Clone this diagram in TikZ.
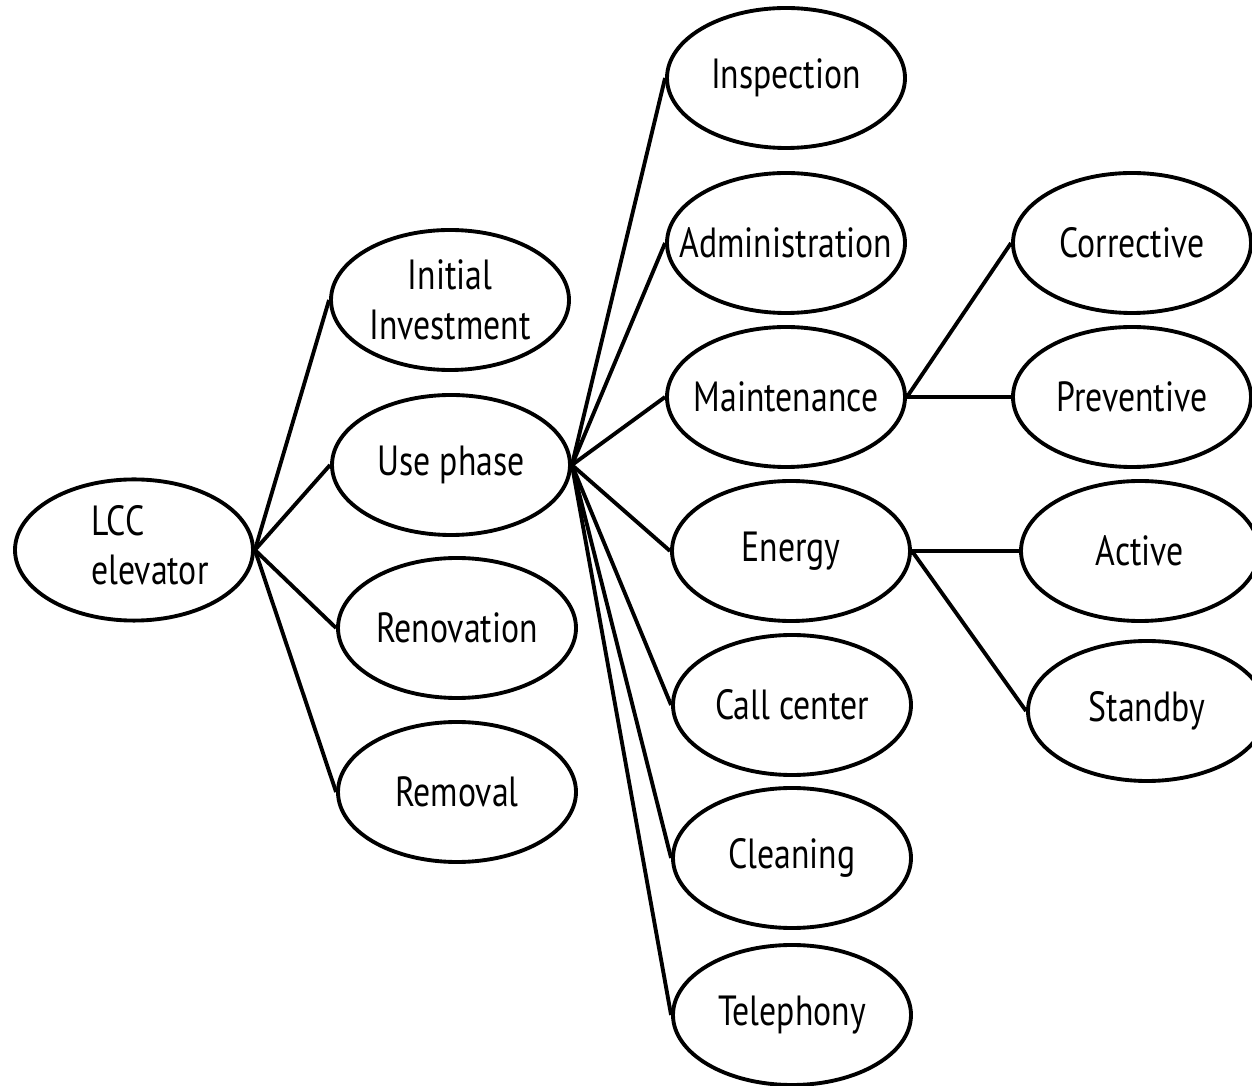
\documentclass[tikz,border=0pt]{standalone}
\usepackage{fontspec}
\setmainfont{PT Sans}[FakeStretch=0.8]
\usetikzlibrary{shapes.geometric}

\tikzset{
  cost/.style={draw, ellipse, line width=1.1pt, minimum width=2.38cm,
    minimum height=1.40cm, inner sep=0pt, align=center,
    font=\fontsize{12}{14.2}\selectfont},
  link/.style={line width=1.1pt}
}

\begin{document}
\begin{tikzpicture}
    		% Frame
			\useasboundingbox (0,0) rectangle (12.52,-10.86);
			% Root and first level
			\node[cost] (lcc) at (1.34,-5.50) {\hspace*{0.32cm}\begin{tabular}{@{}l@{}}LCC\\elevator\end{tabular}};
			\node[cost] (ini) at (4.50,-3.00) {Initial\\Investment};
			\node[cost] (use) at (4.51,-4.65) {Use phase};
			\node[cost] (ren) at (4.57,-6.28) {Renovation};
			\node[cost] (rem) at (4.57,-7.92) {Removal};
			% Use phase items
			\node[cost] (ins) at (7.86,-0.78) {Inspection};
			\node[cost] (adm) at (7.86,-2.43) {\makebox[0pt]{Administration}};
			\node[cost] (mnt) at (7.86,-3.97) {\makebox[0pt]{Maintenance}};
			\node[cost] (ene) at (7.91,-5.51) {Energy};
			\node[cost] (cal) at (7.92,-7.05) {Call center};
			\node[cost] (cle) at (7.92,-8.58) {Cleaning};
			\node[cost] (tel) at (7.92,-10.15) {Telephony};
			% Maintenance and energy split
			\node[cost] (cor) at (11.32,-2.43) {Corrective};
			\node[cost] (pre) at (11.32,-3.97) {Preventive};
			\node[cost] (act) at (11.40,-5.51) {Active};
			\node[cost] (sta) at (11.47,-7.11) {Standby};
			% Links
			\foreach \n in {ini,use,ren,rem}
				\draw[link] (lcc.east) -- (\n.west);
			\foreach \n in {ins,adm,mnt,ene,cal,cle,tel}
				\draw[link] (use.east) -- (\n.west);
			\draw[link] (mnt.east) -- (cor.west);
			\draw[link] (mnt.east) -- (pre.west);
			\draw[link] (ene.east) -- (act.west);
			\draw[link] (ene.east) -- (sta.west);
		\end{tikzpicture}
\end{document}
